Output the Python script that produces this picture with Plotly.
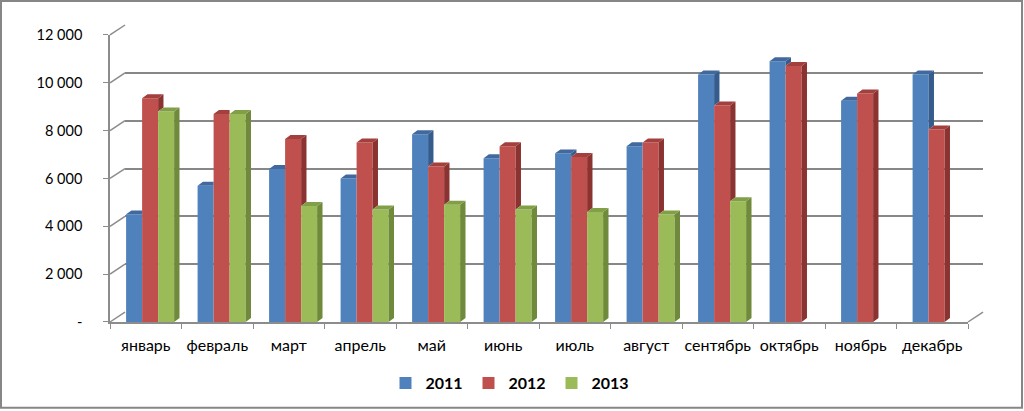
import plotly.graph_objects as go

# ---------------- data ----------------
months = ["январь", "февраль", "март", "апрель", "май", "июнь",
          "июль", "август", "сентябрь", "октябрь", "ноябрь", "декабрь"]
v2011 = [4500, 5700, 6400, 6000, 7850, 6850, 7050, 7350, 10350, 10900, 9250, 10350]
v2012 = [9350, 8700, 7650, 7500, 6500, 7350, 6900, 7500, 9050, 10700, 9550, 8050]
v2013 = [8800, 8700, 4850, 4700, 4900, 4700, 4600, 4500, 5050, None, None, None]
series_names = ["2011", "2012", "2013"]
y_tickvals = [0, 2000, 4000, 6000, 8000, 10000, 12000]
y_ticktext = ["-", "2 000", "4 000", "6 000", "8 000", "10 000", "12 000"]

# ---------------- styling / geometry ----------------
W, H = 1024, 411
ML, MR, MT, MB = 110, 41, 25, 88
PW, PH = W - ML - MR, H - MT - MB          # paper size in px
FRONT_W, FRONT_H = 858, 288                 # front plane size in px
DX_PX, DY_PX = 15, 10                       # back-wall offset
YMAX = 12000
units_per_px = YMAX / FRONT_H

front_col = ["#4F81BD", "#C0504D", "#9BBB59"]
side_col = ["#355C8C", "#8B3331", "#6F8A3A"]
top_col = ["#41699E", "#A33F3C", "#819F47"]
bar_w = 0.224
offsets = [-0.275, -0.051, 0.173]
d = 0.075                 # depth in x units
dy = 4 * units_per_px     # depth in y units

FONT = "Lato"
fig = go.Figure()

# back-wall grid subplot (drawn first, behind bars)
fig.add_trace(go.Scatter(x=[None], y=[None], xaxis="x", yaxis="y",
                         showlegend=False, hoverinfo="skip"))

data = [v2011, v2012, v2013]
n = len(months)

# front faces
for s in range(3):
    fig.add_trace(go.Bar(
        x=list(range(n)), y=data[s], name=series_names[s],
        width=bar_w, offset=offsets[s],
        marker=dict(color=front_col[s], line=dict(width=0)),
        xaxis="x2", yaxis="y2"))

# side and top faces (computed from the same data)
for s in range(3):
    sx, sy, tx, ty = [], [], [], []
    for i in range(n):
        T = data[s][i]
        if T is None:
            continue
        xl = i + offsets[s]
        xr = xl + bar_w
        nxt = data[s + 1][i] if s < 2 else None
        lowv = nxt if (nxt is not None) else 0
        if T > lowv:
            sx += [xr, xr + d, xr + d, xr, xr, None]
            sy += [lowv, lowv + dy, T + dy, T, lowv, None]
        if nxt is not None and nxt >= T:
            tx += [xl, xr, xr, xl + d, xl, None]
            ty += [T, T, T + dy, T + dy, T, None]
        else:
            tx += [xl, xr, xr + d, xl + d, xl, None]
            ty += [T, T, T + dy, T + dy, T, None]
    fig.add_trace(go.Scatter(x=sx, y=sy, mode="lines", fill="toself",
                             fillcolor=side_col[s], line=dict(width=0),
                             xaxis="x2", yaxis="y2", showlegend=False,
                             hoverinfo="skip"))
    fig.add_trace(go.Scatter(x=tx, y=ty, mode="lines", fill="toself",
                             fillcolor=top_col[s], line=dict(width=0),
                             xaxis="x2", yaxis="y2", showlegend=False,
                             hoverinfo="skip"))

grid_col = "#878787"
axis_col = "#8C8C8C"
fx1 = FRONT_W / PW
fy1 = FRONT_H / PH
bx0 = DX_PX / PW
by0 = DY_PX / PH

fig.update_layout(
    width=W, height=H,
    margin=dict(l=ML, r=MR, t=MT, b=MB),
    paper_bgcolor="white", plot_bgcolor="rgba(0,0,0,0)",
    barmode="overlay",
    font=dict(family=FONT, size=14, color="#000000"),
    xaxis=dict(domain=[bx0, 1], range=[-0.5, n - 0.5], showgrid=False,
               showticklabels=False, zeroline=False, showline=False,
               ticks="", anchor="y", fixedrange=True),
    yaxis=dict(domain=[by0, 1], range=[0, YMAX], tickvals=y_tickvals,
               showgrid=True, gridcolor=grid_col, gridwidth=2,
               showticklabels=False, zeroline=False, showline=False,
               ticks="", anchor="x", fixedrange=True),
    xaxis2=dict(domain=[0, fx1], range=[-0.5, n - 0.5], anchor="y2",
                tickvals=list(range(n)), ticktext=months, ticks="",
                showgrid=False, zeroline=False, showline=True,
                linecolor=axis_col, linewidth=1.5,
                minor=dict(tickvals=[i - 0.5 for i in range(n + 1)],
                           ticks="outside", ticklen=5, tickcolor=axis_col,
                           showgrid=False),
                ticklabelstandoff=8, tickfont=dict(size=16),
                fixedrange=True),
    yaxis2=dict(domain=[0, fy1], range=[0, YMAX], anchor="x2",
                tickvals=y_tickvals, ticktext=y_ticktext,
                ticks="outside", ticklen=5, tickcolor=axis_col,
                showgrid=False, zeroline=False, showline=True,
                linecolor=axis_col, linewidth=1.5,
                ticklabelstandoff=18, tickfont=dict(size=14.5),
                fixedrange=True),
    legend=dict(orientation="h", x=(510 - ML) / PW, xanchor="center",
                y=-(383 - (MT + PH)) / PH, yanchor="middle",
                font=dict(size=16, family=FONT, weight="bold"),
                traceorder="normal", itemwidth=30,
                entrywidth=38, entrywidthmode="pixels"),
    showlegend=True,
)

shapes = []
for v in y_tickvals:
    yf = (v / units_per_px) / PH
    yb = (v / units_per_px + DY_PX) / PH
    shapes.append(dict(type="line", xref="paper", yref="paper",
                       x0=0, y0=yf, x1=bx0, y1=yb,
                       line=dict(color=axis_col, width=1.5)))
shapes.append(dict(type="line", xref="paper", yref="paper",
                   x0=fx1, y0=0, x1=1, y1=by0,
                   line=dict(color=axis_col, width=1.5)))
shapes.append(dict(type="rect", xref="paper", yref="paper",
                   x0=(1 - ML) / PW, x1=(W - 2 - ML) / PW,
                   y0=-(H - 2 - MT - PH) / PH, y1=(MT + PH - 1) / PH,
                   line=dict(color="#868686", width=2)))
fig.update_layout(shapes=shapes)

fig.write_html("out.html")
